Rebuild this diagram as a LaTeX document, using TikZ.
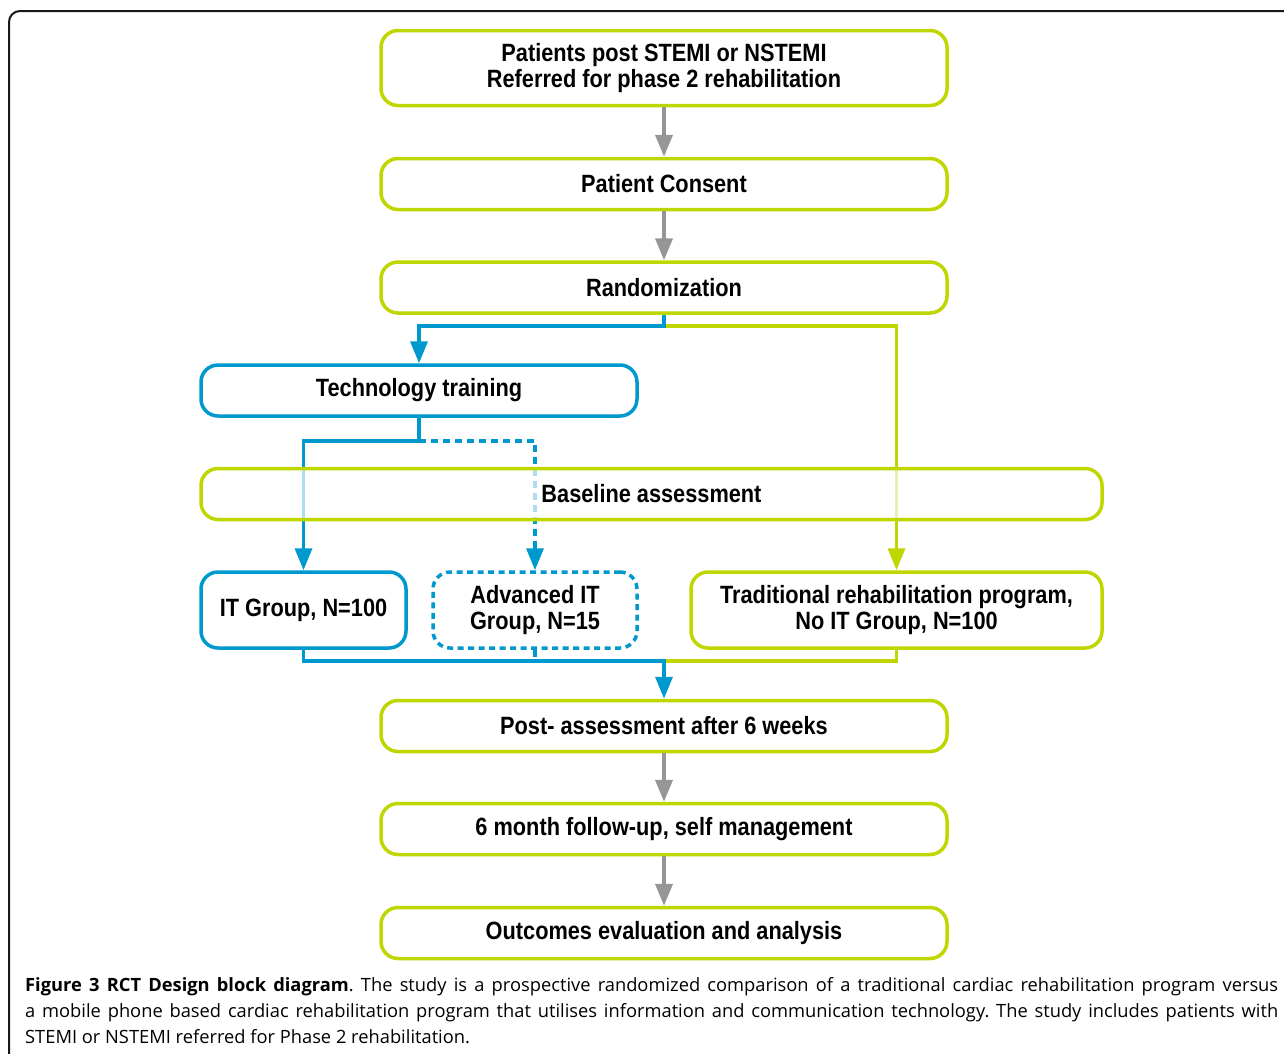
\documentclass[tikz,border=0pt]{standalone}
\usepackage{fontspec}
\setmainfont{Liberation Sans}
\newfontfamily\boxfont[FakeStretch=0.87]{Liberation Sans}
\newfontfamily\capfont{Open Sans}
\usetikzlibrary{arrows.meta,calc}
\definecolor{rgreen}{RGB}{192,214,0}
\definecolor{rblue}{RGB}{0,153,206}
\definecolor{rgray}{RGB}{150,150,150}
\tikzset{
  gbox/.style={draw=rgreen, line width=3.5pt, rounded corners=17pt, fill=white,
    align=center, inner sep=0pt,
    font=\boxfont\bfseries\fontsize{25}{26}\selectfont},
  bbox/.style={gbox, draw=rblue},
  dbox/.style={gbox, draw=rblue, dash pattern=on 6pt off 4.5pt},
  tipa/.tip={Triangle[length=22pt,width=17pt]},
  grayarr/.style={draw=rgray, line width=4pt, -tipa, fill=rgray},
  bline/.style={draw=rblue, line width=3.5pt},
  gline/.style={draw=rgreen, line width=3.5pt},
  dline/.style={draw=rblue, line width=3.5pt, dash pattern=on 7pt off 5pt},
  barr/.style={bline, -tipa},
  garr/.style={gline, -tipa},
  darr/.style={dline, -{Triangle[length=22pt,width=17pt,sep=0pt]}},
}
\begin{document}
\begin{tikzpicture}[x=1pt,y=-1pt]
\useasboundingbox (0,0) rectangle (1284,1053);
\clip (0,0) rectangle (1284,1053);
\fill[white] (0,0) rectangle (1284,1053);
% outer frame
\draw[line width=2pt, rounded corners=11pt, draw=black!90] (1300,11) -- (9,11) -- (9,1080);

% nodes
\node[gbox, minimum width=566pt, minimum height=75pt] (top) at (664,68)
  {Patients post STEMI or NSTEMI\\Referred for phase 2 rehabilitation};
\node[gbox, minimum width=566pt, minimum height=51pt] (consent) at (664,184) {Patient Consent};
\node[gbox, minimum width=566pt, minimum height=51pt] (random) at (664,287.5) {Randomization};
\node[bbox, minimum width=436pt, minimum height=51pt] (tech) at (419,390.5) {Technology training};
\node[bbox, minimum width=205pt, minimum height=76pt] (it) at (303.5,610) {IT Group, N=100};
\node[dbox, minimum width=204pt, minimum height=76pt] (adv) at (535,610) {Advanced IT\\Group, N=15};
\node[gbox, minimum width=411pt, minimum height=76pt] (trad) at (896.5,610)
  {Traditional rehabilitation program,\\No IT Group, N=100};
\node[gbox, minimum width=566pt, minimum height=51pt] (post) at (664,726) {Post- assessment after 6 weeks};
\node[gbox, minimum width=566pt, minimum height=51pt] (six) at (664,829) {6 month follow-up, self management};
\node[gbox, minimum width=566pt, minimum height=51pt] (out) at (664,933) {Outcomes evaluation and analysis};

% junction coordinates
\coordinate (rj) at (664,326);
\coordinate (tj) at (419,441);
\coordinate (mj) at (664,661);

% connectors
\draw[grayarr] (top.south) -- (consent.north);
\draw[grayarr] (consent.south) -- (random.north);
\draw[garr] (rj) -| (trad.north);
\draw[barr] (random.south) -- (rj) -| (tech.north);
\draw[bline] (tech.south) -- (tj);
\draw[dline] (tj) -| ($(adv.north)+(0,-22)$);
\draw[darr] ($(adv.north)+(0,-24)$) -- (adv.north);
\draw[barr] (tj) -| (it.north);
\draw[gline] (trad.south) |- (mj);
\draw[bline] (it.south) |- (mj);
\draw[dline] (adv.south) |- (mj);
\draw[barr] ($(mj)+(0,-1.75)$) -- (post.north);
\draw[grayarr] (post.south) -- (six.north);
\draw[grayarr] (six.south) -- (out.north);

% baseline box drawn over the crossing lines
\node[gbox, fill opacity=0.68, text opacity=1, draw opacity=1,
  minimum width=901pt, minimum height=51pt] (base) at (651.5,494) {Baseline assessment};

% caption
\node[anchor=north west, inner sep=0pt, text width=1253pt, align=justify,
  font=\capfont\fontsize{18.3}{26}\selectfont] (cap) at (25,977)
  {\frenchspacing\tolerance=9999\hyphenpenalty=10000\textbf{Figure 3 RCT Design block diagram}. The study is a prospective randomized comparison of a traditional cardiac rehabilitation program versus\linebreak
  a mobile phone based cardiac rehabilitation program that utilises information and communication technology. The study includes patients with\linebreak
  STEMI or NSTEMI referred for Phase 2 rehabilitation.};
\end{tikzpicture}
\end{document}
